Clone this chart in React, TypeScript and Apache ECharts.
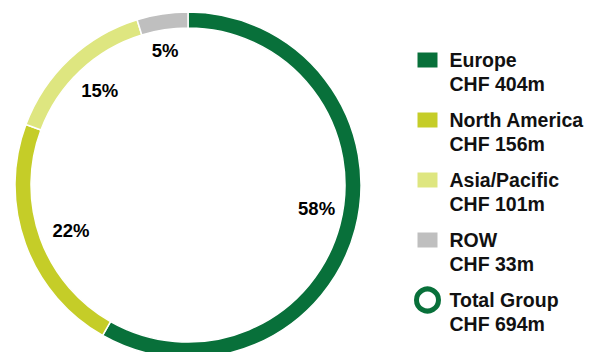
import React, { useEffect, useRef } from "react";
import * as echarts from "echarts";

const regions = ["Europe", "North America", "Asia/Pacific", "ROW"];
const values = [404, 156, 101, 33];
const amounts = ["CHF 404m", "CHF 156m", "CHF 101m", "CHF 33m"];
const totalName = "Total Group";
const totalAmount = "CHF 694m";
const colors = ["#08703a", "#c5cd28", "#dee680", "#bfbfbf"];

// small nudges of the percentage labels (layout only)
const labelNudges = [
  [0, -10],
  [8, 0],
  [3, 2],
  [-3, -3],
];

const FONT = "'Liberation Sans', Arial, Helvetica, sans-serif";

export default function App() {
  const ref = useRef<HTMLDivElement>(null);

  useEffect(() => {
    if (!ref.current) return;
    const chart = echarts.init(ref.current, undefined, { renderer: "svg" });
    const amountMap: Record<string, string> = { [totalName]: totalAmount };
    regions.forEach((r, i) => (amountMap[r] = amounts[i]));

    const center = [188, 185];
    const ringData = regions.map((n, i) => ({
      name: n,
      value: values[i],
      itemStyle: { color: colors[i] },
    }));
    const labelData = regions.map((n, i) => ({
      name: n,
      value: values[i],
      itemStyle: { color: "rgba(0,0,0,0)" },
      label: { offset: labelNudges[i] },
    }));

    const tokenStyle = {
      fontSize: 19.5,
      fontWeight: "bold",
      lineHeight: 24,
      color: "#111111",
      fontFamily: FONT,
      padding: [0, 0, 0, 6],
    };

    chart.setOption({
      animation: false,
      backgroundColor: "#ffffff",
      legend: {
        orient: "vertical",
        left: 414,
        top: 26,
        padding: 0,
        itemWidth: 22,
        itemHeight: 26,
        itemGap: -8,
        selectedMode: false,
        data: [
          ...regions.map((n) => ({ name: n, icon: "path://M0,0H22V17H0Z" })),
          {
            name: totalName,
            icon: "circle",
            itemStyle: { color: "#ffffff", borderColor: "#08703a", borderWidth: 5 },
          },
        ],
        formatter: (name: string) =>
          `{e| }\n{a|${name}}\n{a|${amountMap[name]}}`,
        textStyle: {
          rich: {
            a: tokenStyle,
            e: { ...tokenStyle },
          },
        },
      },
      series: [
        {
          type: "pie",
          name: totalName,
          center,
          radius: [157, 173],
          startAngle: 90,
          clockwise: true,
          silent: true,
          data: ringData,
          itemStyle: { borderColor: "#ffffff", borderWidth: 1.5 },
          label: { show: false },
          labelLine: { show: false },
          emphasis: { disabled: true },
        },
        {
          type: "pie",
          name: "labels",
          center,
          radius: [100, 160],
          startAngle: 90,
          clockwise: true,
          silent: true,
          percentPrecision: 0,
          data: labelData,
          itemStyle: { borderWidth: 0 },
          label: {
            show: true,
            position: "inside",
            formatter: "{d}%",
            fontSize: 18.5,
            fontWeight: "bold",
            color: "#000000",
            fontFamily: FONT,
          },
          labelLine: { show: false },
          emphasis: { disabled: true },
        },
      ],
    });
    return () => chart.dispose();
  }, []);

  return (
    <div
      ref={ref}
      style={{ position: "fixed", left: 0, top: 0, width: 593, height: 352 }}
    />
  );
}
